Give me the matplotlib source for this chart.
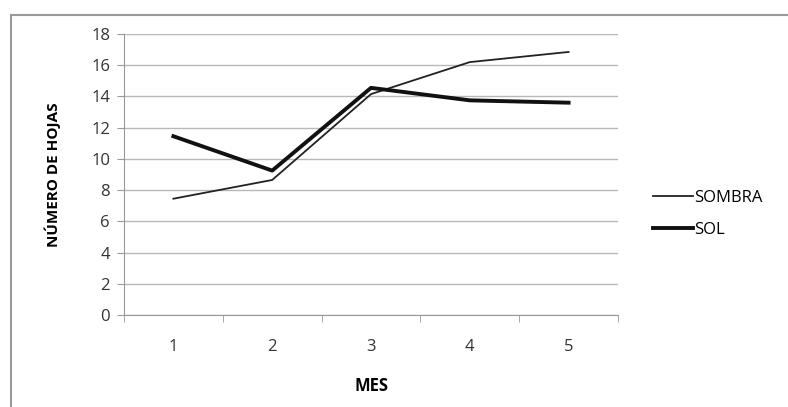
import matplotlib.pyplot as plt
import matplotlib.patches as patches

plt.rcParams['font.family'] = ['Open Sans', 'DejaVu Sans']

meses = [1, 2, 3, 4, 5]
sombra = [7.45, 8.65, 14.15, 16.2, 16.85]
sol = [11.45, 9.25, 14.55, 13.75, 13.6]

fig = plt.figure(figsize=(7.88, 4.07), dpi=100)
# chart frame (Excel-style border)
fig.patches.append(patches.Rectangle((11 / 788, -0.05), 1.0, 1 - 15 / 407 + 0.05,
                                     transform=fig.transFigure, facecolor='white',
                                     edgecolor='#9a9a9a', linewidth=1.5, zorder=-1))

ax = fig.add_axes([124 / 788, 1 - 315 / 407, (618 - 124) / 788, (315 - 34) / 407])
ax.set_facecolor('none')
ax.plot(meses, sombra, color='#222222', linewidth=1.3, label='SOMBRA')
ax.plot(meses, sol, color='#111111', linewidth=2.8, label='SOL')

ax.set_xlim(0.5, 5.5)
ax.set_ylim(0, 18)
ax.set_yticks(range(0, 19, 2))
ax.set_xticks(meses)
ax.set_xticks([0.5, 1.5, 2.5, 3.5, 4.5, 5.5], minor=True)
ax.tick_params(axis='x', which='major', length=0, pad=17, labelsize=12, labelcolor='#333333')
ax.tick_params(axis='x', which='minor', length=5, color='#999999', direction='out')
ax.tick_params(axis='y', length=5, color='#999999', pad=5, labelsize=12, labelcolor='#333333')
ax.grid(axis='y', color='#b8b8b8', linewidth=1)
ax.set_axisbelow(True)
for s in ['top', 'right']:
    ax.spines[s].set_visible(False)
for s in ['left', 'bottom']:
    ax.spines[s].set_color('#999999')

ax.set_xlabel('MES', fontsize=12, fontweight='bold', labelpad=16)
ax.set_ylabel('NÚMERO DE HOJAS', fontsize=11, fontweight='bold', labelpad=22)

ax.legend(loc='center left', bbox_to_anchor=(1.04, 0.36), frameon=False, fontsize=12,
          handlelength=2.4, handletextpad=0.1, labelspacing=1.0)

plt.savefig('out.png', dpi=100)
